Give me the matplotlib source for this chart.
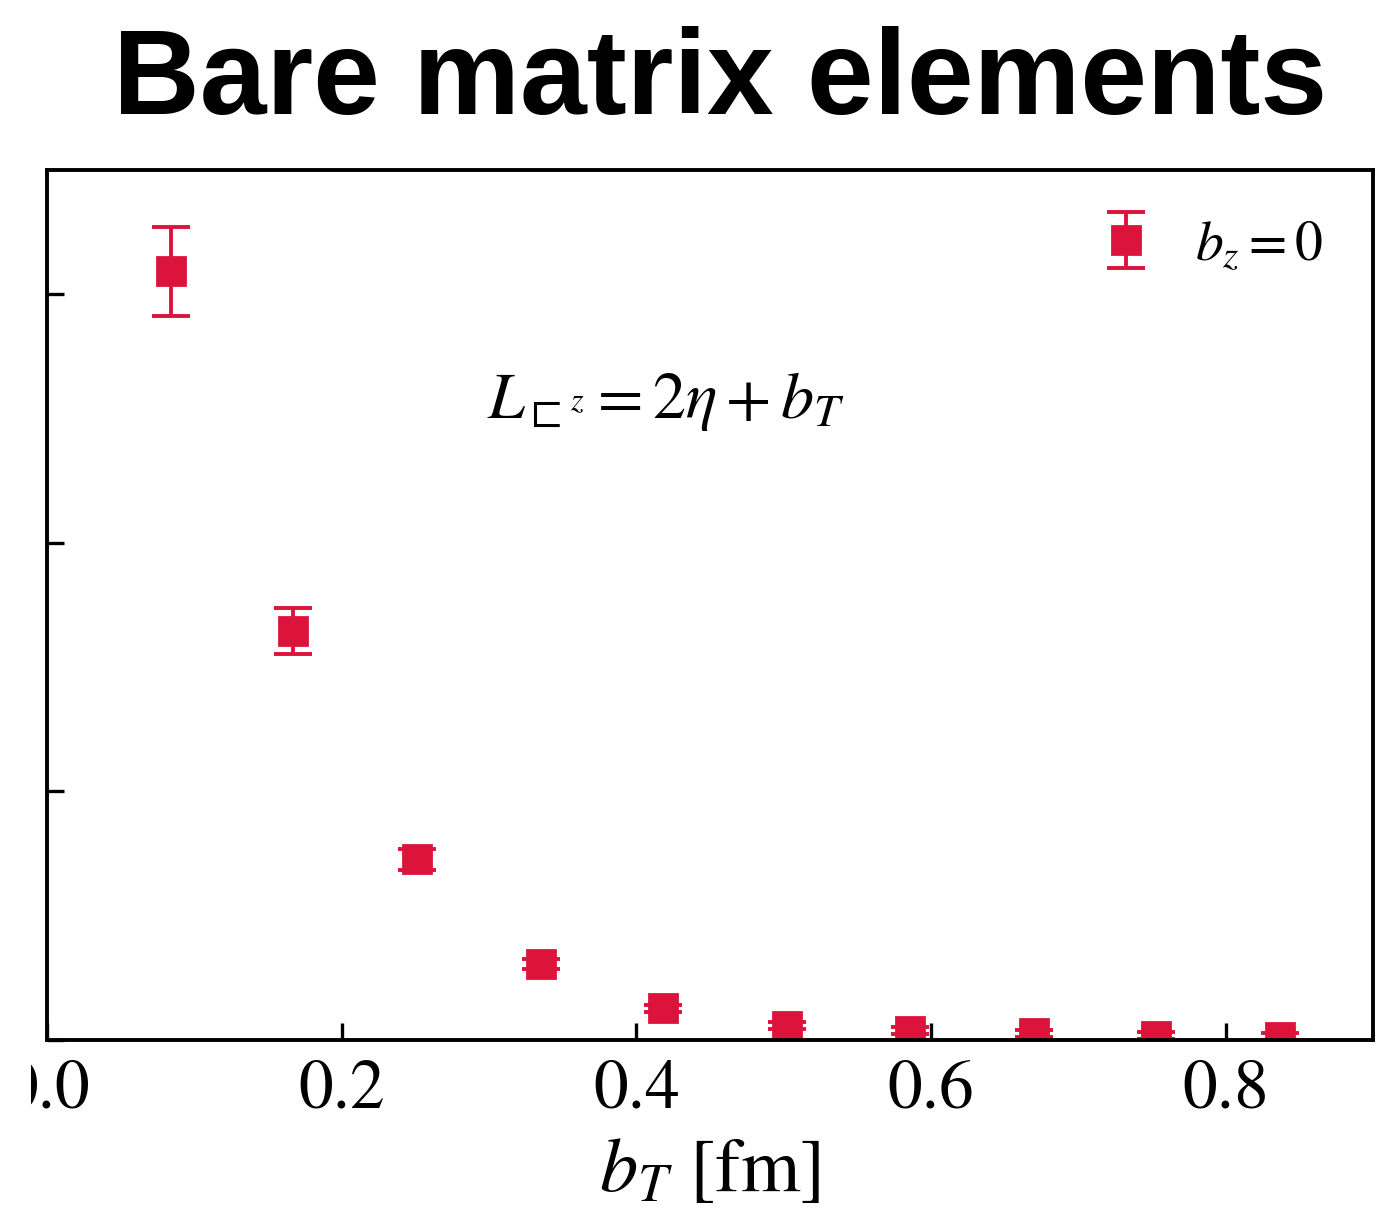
import numpy as np
import matplotlib.pyplot as plt
from matplotlib.transforms import Bbox, TransformedBbox

plt.rcParams['mathtext.fontset'] = 'stix'
plt.rcParams['font.family'] = 'STIXGeneral'

# transverse separation b_T [fm] and bare matrix elements (arb. units)
b_T = [0.084, 0.167, 0.251, 0.335, 0.418, 0.502, 0.586, 0.670, 0.753, 0.837]
me = [3.092, 1.645, 0.728, 0.306, 0.127, 0.058, 0.038, 0.027, 0.018, 0.014]
me_err = [0.179, 0.092, 0.042, 0.019, 0.013, 0.013, 0.015, 0.014, 0.013, 0.013]

fig = plt.figure(figsize=(6.91, 6.12), dpi=200)
ax = fig.add_axes([0.034, 0.1503, 0.9595, 0.7108])

ax.errorbar(b_T, me, yerr=me_err, fmt='s', color='crimson', ms=10,
            capsize=6.8, elinewidth=1.4, capthick=1.4, label=r'$b_z=0$')

ax.set_xlim(0, 0.9)
ax.set_ylim(0, 3.5)
ax.set_xticks([0.0, 0.2, 0.4, 0.6, 0.8])
ax.set_yticks([0, 1, 2, 3])
ax.set_yticklabels([])
ax.tick_params(direction='in', length=6, width=1.2, labelsize=25, pad=7)
for s in ax.spines.values():
    s.set_linewidth(1.4)

ax.set_xlabel(r'$b_T$ [fm]', fontsize=27.5, labelpad=6)
ax.text(0.42, 2.57, r'$L_{\sqsubset^{z}}=2\eta+b_T$', fontsize=23.8,
        ha='center', va='center')
ax.legend(loc='upper right', frameon=False, fontsize=20,
          handlelength=1.0, handletextpad=0.75, borderaxespad=0.5)

fig.text(720 / 1382, 0.907, 'Bare matrix elements', fontsize=43.2,
         fontweight='bold', family='Liberation Sans', ha='center',
         va='baseline')

# the leftmost tick label is cut off at the figure's left margin
fig.canvas.draw()
edge = TransformedBbox(Bbox([[31 / 1382, 0], [1, 1]]), fig.transFigure)
first = ax.xaxis.get_major_ticks()[0].label1
first.set_clip_box(edge)
first.set_clip_on(True)

fig.savefig('out.png', dpi=200)
